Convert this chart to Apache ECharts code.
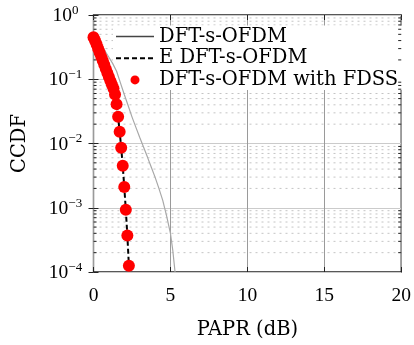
<!DOCTYPE html>
<html>
<head>
<meta charset="utf-8">
<script src="https://cdn.jsdelivr.net/npm/echarts@6/dist/echarts.min.js"></script>
<style>
  html, body { margin: 0; padding: 0; background: #fff; }
  #chart { width: 414px; height: 345px; }
</style>
</head>
<body>
<div id="chart"></div>
<script>
// DFT-s-OFDM (grey solid)
const dftPapr = [0, 0.25, 0.5, 0.75, 1.0, 1.25, 1.5, 1.75, 2.0, 2.25, 2.5, 2.75, 3.0, 3.25, 3.5, 3.75, 4.0, 4.25, 4.5, 4.75, 5.0, 5.15, 5.3];
const dftCcdf = [0.5, 0.42, 0.34, 0.275, 0.22, 0.175, 0.133, 0.088, 0.058, 0.039, 0.026, 0.018, 0.0125, 0.0088, 0.0062, 0.0043, 0.003, 0.002, 0.0013, 0.00075, 0.0004, 0.00022, 0.0001];

// E DFT-s-OFDM (black dashed)
const ePapr = [0, 0.1, 0.2, 0.3, 0.4, 0.5, 0.6, 0.7, 0.8, 0.9, 1.0, 1.1, 1.2, 1.3, 1.4, 1.5, 1.6, 1.7, 1.8, 1.9, 2.0, 2.1, 2.2, 2.3, 2.36];
const eCcdf = [0.45, 0.4, 0.35, 0.3, 0.26, 0.225, 0.195, 0.168, 0.145, 0.125, 0.108, 0.094, 0.082, 0.072, 0.058, 0.041, 0.026, 0.0153, 0.0086, 0.0045, 0.0021, 0.00093, 0.00037, 0.000125, 0.0001];

// DFT-s-OFDM with FDSS (red dots)
const fdssPapr = [0, 0.1, 0.2, 0.3, 0.4, 0.5, 0.6, 0.7, 0.8, 0.9, 1.0, 1.1, 1.2, 1.3, 1.4, 1.5, 1.6, 1.7, 1.8, 1.9, 2.0, 2.1, 2.2, 2.3];
const fdssCcdf = [0.45, 0.4, 0.35, 0.3, 0.26, 0.225, 0.195, 0.168, 0.145, 0.125, 0.108, 0.094, 0.082, 0.072, 0.058, 0.041, 0.026, 0.0153, 0.0086, 0.0045, 0.0021, 0.00093, 0.00037, 0.000125];

const xTicks = [0, 5, 10, 15, 20];
const decades = [1e-4, 1e-3, 1e-2, 1e-1];
const mantissas = [2, 3, 4, 5, 6, 7, 8, 9];

const minorVals = [];
decades.forEach((d) => mantissas.forEach((m) => minorVals.push(m * d)));

const pairs = (xs, ys) => xs.map((x, i) => [x, ys[i]]);
// segments [x0,v]-[x1,v] broken by gaps
const hSegments = (x0, x1) => minorVals.flatMap((v) => [[x0, v], [x1, v], [x1, '-']]);

const serif = 'DejaVu Serif';
const numFont = 'Liberation Serif';

const chart = echarts.init(document.getElementById('chart'), null, { renderer: 'canvas' });

chart.setOption({
  animation: false,
  backgroundColor: '#fff',
  grid: {
    left: 93.5,
    right: 10,
    top: 15,
    bottom: 72,
    show: true,
    borderColor: '#222',
    borderWidth: 1.3,
    backgroundColor: 'transparent',
  },
  legend: {
    orient: 'vertical',
    left: 113,
    top: 25.5,
    z: 3,
    padding: [1, 4, 0, 2],
    backgroundColor: '#fff',
    itemWidth: 38,
    itemHeight: 9,
    itemGap: 1.7,
    textStyle: { fontFamily: serif, fontSize: 19.5, color: '#000', lineHeight: 20 },
    data: [
      {
        name: 'DFT-s-OFDM',
        lineStyle: { color: '#444', width: 1.5 },
        itemStyle: { color: 'transparent', borderWidth: 0, opacity: 0 },
      },
      {
        name: 'E DFT-s-OFDM',
        itemStyle: { color: 'transparent', borderWidth: 0, opacity: 0 },
      },
      { name: 'DFT-s-OFDM with FDSS', icon: 'circle' },
    ],
  },
  xAxis: [
    {
      type: 'value',
      min: 0,
      max: 20,
      interval: 5,
      name: 'PAPR (dB)',
      nameLocation: 'middle',
      nameGap: 48,
      nameTextStyle: { fontFamily: serif, fontSize: 19.5, color: '#000' },
      axisLine: { show: false },
      axisTick: { show: true, inside: true, length: 5, lineStyle: { color: '#222' } },
      axisLabel: {
        fontFamily: numFont,
        fontSize: 19.5,
        color: '#000',
        margin: 14,
        formatter: (v) => (xTicks.includes(v) ? String(v) : ''),
      },
      splitLine: { show: true, lineStyle: { color: '#9a9a9a', width: 1 } },
    },
    {
      type: 'value',
      position: 'top',
      min: 0,
      max: 20,
      interval: 5,
      axisLine: { show: false },
      axisTick: { show: true, inside: true, length: 5, lineStyle: { color: '#222' } },
      axisLabel: { show: false },
      splitLine: { show: false },
    },
  ],
  yAxis: [
    {
      type: 'log',
      logBase: 10,
      min: 1e-4,
      max: 1,
      name: 'CCDF',
      nameLocation: 'middle',
      nameRotate: 90,
      nameGap: 64,
      nameTextStyle: { fontFamily: serif, fontSize: 19.5, color: '#000' },
      axisLine: { show: false },
      axisTick: { show: true, inside: true, length: 5, lineStyle: { color: '#222' } },
      axisLabel: {
        showMinLabel: true,
        showMaxLabel: true,
        margin: 28,
        align: 'center',
        formatter: (v) => {
          const e = Math.round(Math.log10(v));
          return '{b|10}{e|' + (e === 0 ? '0' : '\u2212' + -e) + '}';
        },
        rich: {
          b: { fontFamily: numFont, fontSize: 19.5, color: '#000', lineHeight: 22, verticalAlign: 'bottom' },
          e: { fontFamily: numFont, fontSize: 13, color: '#000', lineHeight: 13, verticalAlign: 'top' },
        },
      },
      splitLine: { show: true, lineStyle: { color: '#cbcbcb', width: 1 } },
    },
    {
      type: 'log',
      logBase: 10,
      min: 1e-4,
      max: 1,
      position: 'right',
      axisLine: { show: false },
      axisTick: { show: true, inside: true, length: 5, lineStyle: { color: '#222' } },
      axisLabel: { show: false },
      splitLine: { show: false },
    },
  ],
  series: [
    {
      // minor dotted grid (below legend)
      name: 'minorGrid',
      type: 'line',
      z: 1,
      silent: true,
      showSymbol: false,
      symbol: 'none',
      connectNulls: false,
      lineStyle: { type: [2, 4], color: '#c4c4c4', width: 1 },
      data: hSegments(0, 20),
    },
    {
      // minor ticks, left border
      name: 'minorTicksL',
      type: 'line',
      z: 6,
      silent: true,
      showSymbol: false,
      symbol: 'none',
      connectNulls: false,
      lineStyle: { color: '#222', width: 1 },
      data: hSegments(0, 0.2),
    },
    {
      // minor ticks, right border
      name: 'minorTicksR',
      type: 'line',
      z: 6,
      silent: true,
      showSymbol: false,
      symbol: 'none',
      connectNulls: false,
      lineStyle: { color: '#222', width: 1 },
      data: hSegments(19.8, 20),
    },
    {
      name: 'DFT-s-OFDM',
      type: 'line',
      z: 5,
      showSymbol: false,
      symbol: 'none',
      color: '#a8a8a8',
      lineStyle: { color: '#a8a8a8', width: 1.2 },
      data: pairs(dftPapr, dftCcdf),
    },
    {
      name: 'E DFT-s-OFDM',
      type: 'line',
      z: 5,
      showSymbol: false,
      symbol: 'none',
      color: '#000',
      lineStyle: { color: '#000', width: 2, type: [5, 3] },
      data: pairs(ePapr, eCcdf),
    },
    {
      name: 'DFT-s-OFDM with FDSS',
      type: 'scatter',
      z: 6,
      symbol: 'circle',
      symbolSize: 12,
      itemStyle: { color: '#ff0000', opacity: 1 },
      data: pairs(fdssPapr, fdssCcdf),
    },
  ],
});
</script>
</body>
</html>
